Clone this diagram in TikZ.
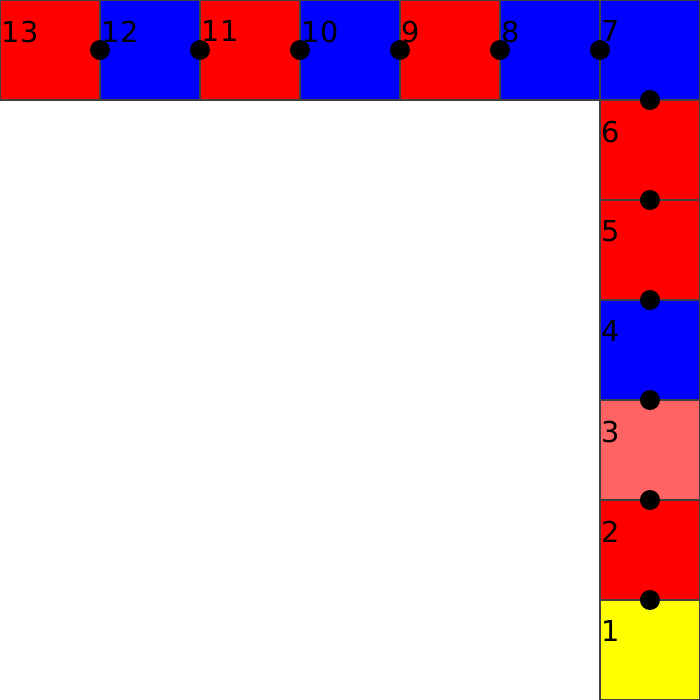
\documentclass[tikz,border=0pt]{standalone}
\usepackage{fontspec}
\setmainfont{DejaVu Sans}
\usepackage{tikz}
\usetikzlibrary{positioning}

\definecolor{cellred}{HTML}{FF0000}
\definecolor{cellblue}{HTML}{0000FF}
\definecolor{cellpink}{HTML}{FF6363}
\definecolor{cellyellow}{HTML}{FFFF00}

\tikzset{
  cell/.style={draw=black!75,line width=0.35pt,minimum size=1cm,inner sep=0pt,outer sep=0pt},
  num/.style={anchor=north west,inner sep=0pt,font=\fontsize{8.2}{9}\selectfont,xshift=0.01cm,yshift=-0.2cm},
  joint/.style={fill=black,draw=none,circle,minimum size=0.2cm,inner sep=0pt}
}

\begin{document}
\begin{tikzpicture}
  \useasboundingbox (0,0) rectangle (7,7);
  % column on the right, from the bottom up
  \node[cell,fill=cellyellow] (s1) at (6.5,0.5) {};
  \node[cell,fill=cellred,above=0pt of s1] (s2) {};
  \node[cell,fill=cellpink,above=0pt of s2] (s3) {};
  \node[cell,fill=cellblue,above=0pt of s3] (s4) {};
  \node[cell,fill=cellred,above=0pt of s4] (s5) {};
  \node[cell,fill=cellred,above=0pt of s5] (s6) {};
  \node[cell,fill=cellblue,above=0pt of s6] (s7) {};
  % top row, going left
  \node[cell,fill=cellblue,left=0pt of s7] (s8) {};
  \node[cell,fill=cellred,left=0pt of s8] (s9) {};
  \node[cell,fill=cellblue,left=0pt of s9] (s10) {};
  \node[cell,fill=cellred,left=0pt of s10] (s11) {};
  \node[cell,fill=cellblue,left=0pt of s11] (s12) {};
  \node[cell,fill=cellred,left=0pt of s12] (s13) {};
  % numbers
  \foreach \i in {1,...,13}
    \node[num] (n\i) at (s\i.north west) {\i};
  % joints between neighbours
  \foreach \i in {1,...,6}
    \node[joint] (j\i) at (s\i.north) {};
  \foreach \i in {7,...,12}
    \node[joint] (j\i) at (s\i.west) {};
\end{tikzpicture}
\end{document}
